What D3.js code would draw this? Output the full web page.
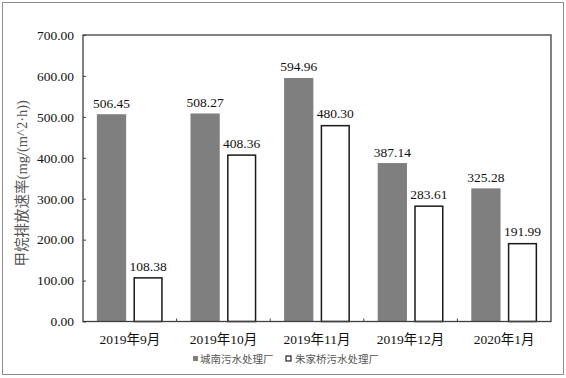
<!DOCTYPE html>
<html>
<head>
<meta charset="utf-8">
<script src="https://cdn.jsdelivr.net/npm/d3@7/dist/d3.min.js"></script>
<style>
  html, body { margin: 0; padding: 0; background: #fff; }
  svg { display: block; }
  text { font-family: "Liberation Serif", "Times New Roman", "Noto Sans CJK SC", serif; }
</style>
</head>
<body>
<svg id="chart" width="566" height="378"></svg>
<script>
const categories = ["2019年9月", "2019年10月", "2019年11月", "2019年12月", "2020年1月"];
const seriesNames = ["城南污水处理厂", "朱家桥污水处理厂"];
const chengnan = [506.45, 508.27, 594.96, 387.14, 325.28];
const zhujiaqiao = [108.38, 408.36, 480.30, 283.61, 191.99];
const yTicks = [0, 100, 200, 300, 400, 500, 600, 700];
const yTitle = "甲烷排放速率(mg/(m^2·h))";

const svg = d3.select("#chart");
const W = 566, H = 378;
const m = { left: 83, top: 35, right: 551, bottom: 321.5 };

svg.append("rect").attr("x", 2.5).attr("y", 2.5).attr("width", W - 5).attr("height", H - 6)
  .attr("fill", "#fff").attr("stroke", "#8c8c8c").attr("stroke-width", 1);

const x0 = d3.scaleBand().domain(categories).range([m.left, m.right]).paddingInner(0).paddingOuter(0);
const x1 = d3.scaleBand().domain([0, 1]).range([0, x0.bandwidth()]).paddingInner(0.2).paddingOuter(0.38);
const y = d3.scaleLinear().domain([0, 700]).range([m.bottom, m.top]);

const series = [
  { name: seriesNames[0], values: chengnan, fill: "#7f7f7f", stroke: "none" },
  { name: seriesNames[1], values: zhujiaqiao, fill: "#ffffff", stroke: "#1a1a1a" }
];

// bars
series.forEach((s, si) => {
  const g = svg.append("g");
  g.selectAll("rect").data(s.values).enter().append("rect")
    .attr("x", (d, i) => x0(categories[i]) + x1(si) + (si === 1 ? 0.75 : 0))
    .attr("y", d => y(d) + (si === 1 ? 0.75 : 0))
    .attr("width", x1.bandwidth() - (si === 1 ? 1.5 : 0))
    .attr("height", d => m.bottom - y(d) - (si === 1 ? 0.75 : 0))
    .attr("fill", s.fill)
    .attr("stroke", s.stroke)
    .attr("stroke-width", 1.5);
  g.selectAll("text").data(s.values).enter().append("text")
    .attr("x", (d, i) => x0(categories[i]) + x1(si) + x1.bandwidth() / 2)
    .attr("y", d => y(d) - 6.5)
    .attr("text-anchor", "middle")
    .attr("font-size", 13.5)
    .attr("fill", "#111")
    .text(d => d.toFixed(2));
});

// plot frame
svg.append("rect").attr("x", m.left).attr("y", m.top)
  .attr("width", m.right - m.left).attr("height", m.bottom - m.top)
  .attr("fill", "none").attr("stroke", "#404040").attr("stroke-width", 1.3);

// y axis
const yAxis = d3.axisLeft(y).tickValues(yTicks).tickSize(-3).tickPadding(9).tickFormat(d => d.toFixed(2));
const ya = svg.append("g").attr("transform", `translate(${m.left},0)`).call(yAxis);
ya.select(".domain").remove();
ya.selectAll("line").attr("stroke", "#404040");
ya.selectAll("text").attr("font-size", 13.5).attr("fill", "#111")
  .attr("font-family", "Liberation Serif, Times New Roman, serif");

// x axis
const xAxis = d3.axisBottom(x0).tickSize(0).tickPadding(13);
const xa = svg.append("g").attr("transform", `translate(0,${m.bottom})`).call(xAxis);
xa.select(".domain").remove();
xa.selectAll("text").attr("font-size", 13.5).attr("fill", "#111")
  .attr("font-family", "Liberation Serif, Times New Roman, serif");
// small inward boundary ticks between categories
svg.append("g").selectAll("line").data(categories.slice(1)).enter().append("line")
  .attr("x1", d => x0(d)).attr("x2", d => x0(d))
  .attr("y1", m.bottom).attr("y2", m.bottom - 3)
  .attr("stroke", "#404040").attr("stroke-width", 1);

// y title
svg.append("text")
  .attr("transform", `translate(27,${(m.top + m.bottom) / 2 + 5}) rotate(-90)`)
  .attr("text-anchor", "middle")
  .attr("font-size", 14.5)
  .attr("fill", "#555")
  .text(yTitle);

// legend
const legend = [
  { x: 193, textX: 200, fill: "#7f7f7f", stroke: "none" },
  { x: 286, textX: 295, fill: "#fff", stroke: "#222" }
];
legend.forEach((l, i) => {
  svg.append("rect").attr("x", l.x).attr("y", 356).attr("width", 5).attr("height", 5)
    .attr("fill", l.fill).attr("stroke", l.stroke).attr("stroke-width", 1.2);
  svg.append("text").attr("x", l.textX).attr("y", 362.5)
    .attr("font-size", 10.5).attr("fill", "#555")
    .attr("font-family", "Noto Sans CJK SC, serif")
    .text(seriesNames[i]);
});
</script>
</body>
</html>
